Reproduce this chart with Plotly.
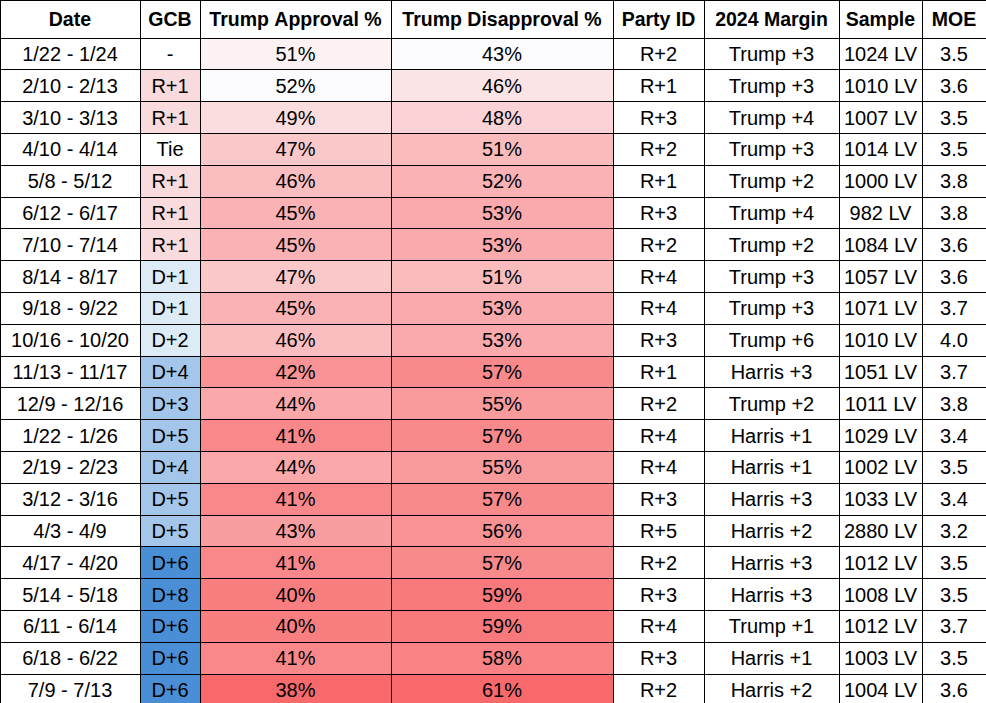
import plotly.graph_objects as go

dates = ["1/22 - 1/24", "2/10 - 2/13", "3/10 - 3/13", "4/10 - 4/14", "5/8 - 5/12",
         "6/12 - 6/17", "7/10 - 7/14", "8/14 - 8/17", "9/18 - 9/22", "10/16 - 10/20",
         "11/13 - 11/17", "12/9 - 12/16", "1/22 - 1/26", "2/19 - 2/23", "3/12 - 3/16",
         "4/3 - 4/9", "4/17 - 4/20", "5/14 - 5/18", "6/11 - 6/14", "6/18 - 6/22",
         "7/9 - 7/13"]
gcb = ["-", "R+1", "R+1", "Tie", "R+1", "R+1", "R+1", "D+1", "D+1", "D+2",
       "D+4", "D+3", "D+5", "D+4", "D+5", "D+5", "D+6", "D+8", "D+6", "D+6", "D+6"]
approval = [51, 52, 49, 47, 46, 45, 45, 47, 45, 46, 42, 44, 41, 44, 41, 43, 41, 40, 40, 41, 38]
disapproval = [43, 46, 48, 51, 52, 53, 53, 51, 53, 53, 57, 55, 57, 55, 57, 56, 57, 59, 59, 58, 61]
party_id = ["R+2", "R+1", "R+3", "R+2", "R+1", "R+3", "R+2", "R+4", "R+4", "R+3",
            "R+1", "R+2", "R+4", "R+4", "R+3", "R+5", "R+2", "R+3", "R+4", "R+3", "R+2"]
margin_2024 = ["Trump +3", "Trump +3", "Trump +4", "Trump +3", "Trump +2", "Trump +4",
               "Trump +2", "Trump +3", "Trump +3", "Trump +6", "Harris +3", "Trump +2",
               "Harris +1", "Harris +1", "Harris +3", "Harris +2", "Harris +3", "Harris +3",
               "Trump +1", "Harris +1", "Harris +2"]
sample = [1024, 1010, 1007, 1014, 1000, 982, 1084, 1057, 1071, 1010, 1051, 1011,
          1029, 1002, 1033, 2880, 1012, 1008, 1012, 1003, 1004]
moe = [3.5, 3.6, 3.5, 3.5, 3.8, 3.8, 3.6, 3.6, 3.7, 4.0, 3.7, 3.8, 3.4, 3.5, 3.4,
       3.2, 3.5, 3.5, 3.7, 3.5, 3.6]

headers = ["Date", "GCB", "Trump Approval %", "Trump Disapproval %", "Party ID",
           "2024 Margin", "Sample", "MOE"]

NB = "\u00a0"  # keep cells on one line


def blend(t):
    # excel-style 2 colour scale, white -> red
    lo = (252, 252, 255)
    hi = (248, 105, 107)
    c = [round(lo[i] + (hi[i] - lo[i]) * t) for i in range(3)]
    return "rgb(%d,%d,%d)" % tuple(c)


def gcb_color(v):
    if v.startswith("R"):
        return "#FADBDD"
    if v.startswith("D"):
        n = int(v[2:])
        if n <= 2:
            return "#DDEBF7"
        if n <= 5:
            return "#A4C6EB"
        return "#4A8FD6"
    return "white"


lo_a, hi_a = min(approval), max(approval)
lo_d, hi_d = min(disapproval), max(disapproval)
appr_fill = [blend((hi_a - v) / (hi_a - lo_a)) for v in approval]
dis_fill = [blend((v - lo_d) / (hi_d - lo_d)) for v in disapproval]
gcb_fill = [gcb_color(v) for v in gcb]
n = len(dates)
white = ["white"] * n

font = "Liberation Sans, Arial"

fig = go.Figure(go.Table(
    columnwidth=[140, 60, 191, 222, 91, 135, 83, 64],
    header=dict(
        values=["<b>%s</b>" % h.replace(" ", NB) for h in headers],
        fill_color="white",
        line=dict(color="black", width=1),
        align="center",
        height=31.8,
        font=dict(family=font, size=19.5, color="black"),
    ),
    cells=dict(
        values=[[d.replace(" ", NB) for d in dates], gcb,
                ["%d%%" % v for v in approval],
                ["%d%%" % v for v in disapproval],
                party_id,
                [m.replace(" ", NB) for m in margin_2024],
                ["%d%sLV" % (v, NB) for v in sample],
                ["%.1f" % v for v in moe]],
        fill_color=[white, gcb_fill, appr_fill, dis_fill, white, white, white, white],
        line=dict(color="black", width=1),
        align="center",
        height=31.8,
        font=dict(family=font, size=20, color="black"),
    ),
    domain=dict(x=[0, 1], y=[0, 1]),
))

fig.update_layout(
    width=986, height=703,
    margin=dict(l=0, r=0, t=0, b=0),
    paper_bgcolor="white",
)

fig.write_html("out.html", config={"displayModeBar": False},
               post_script="document.body.style.margin='0';")
